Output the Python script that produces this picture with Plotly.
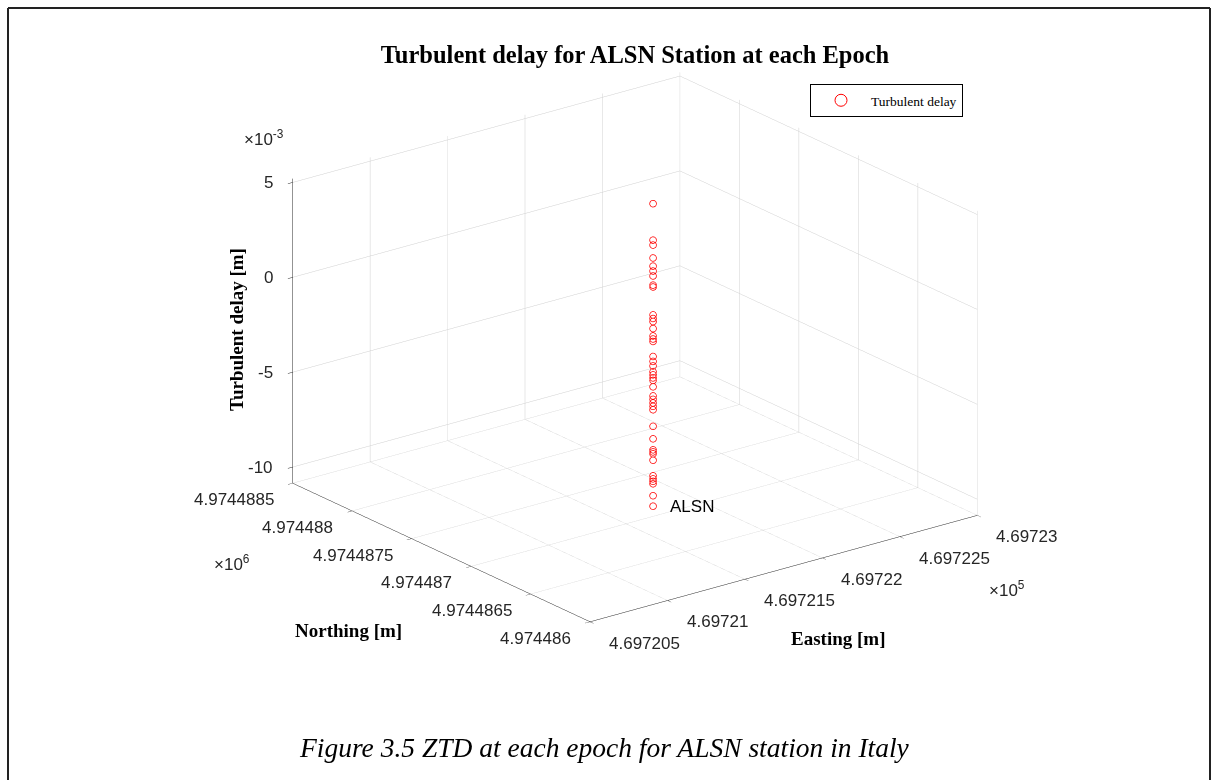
import plotly.graph_objects as go

# ---------------- data ----------------
station_name = "ALSN"
station_easting = 469721.75      # m
station_northing = 4974487.10    # m
turbulent_delay = [
    0.00517, 0.00325, 0.00299, 0.00231, 0.00188, 0.00162, 0.00136, 0.00088, 0.00078,
    -0.00069, -0.00088, -0.00104, -0.00141, -0.00180, -0.00196, -0.00209,
    -0.00288, -0.00314, -0.00338, -0.00369, -0.00385, -0.00401, -0.00414, -0.00448,
    -0.00496, -0.00514, -0.00533, -0.00551, -0.00569, -0.00656, -0.00722,
    -0.00780, -0.00791, -0.00801, -0.00835, -0.00917, -0.00933, -0.00946, -0.00959,
    -0.01022, -0.01077,
]

easting_ticks = [469720.5, 469721.0, 469721.5, 469722.0, 469722.5, 469723.0]
easting_ticklabels = ["4.697205", "4.69721", "4.697215", "4.69722", "4.697225", "4.69723"]
northing_ticks = [4974486.0, 4974486.5, 4974487.0, 4974487.5, 4974488.0, 4974488.5]
northing_ticklabels = ["4.974486", "4.9744865", "4.974487", "4.9744875", "4.974488", "4.9744885"]
delay_ticks = [-0.010, -0.005, 0.0, 0.005]
delay_ticklabels = ["-10", "-5", "0", "5"]
delay_range = [-0.01085, 0.0052]

title_text = "Turbulent delay for ALSN Station at each Epoch"
caption_text = "Figure 3.5 ZTD at each epoch for ALSN station in Italy"

# local origin: WebGL works in float32, so UTM coordinates are plotted relative
# to this origin (tick labels still show the true UTM values)
E0, N0 = 469720.0, 4974486.0

# ---------------- figure ----------------
W, H = 1213, 780
SANS = "Liberation Sans, Arial, sans-serif"
SERIF = "Liberation Serif, Times New Roman, serif"
TICK_FONT = dict(family=SANS, size=17, color="#262626")
LABEL_FONT = dict(family=SERIF, size=19, color="#000000")

n = len(turbulent_delay)
xs = [station_easting - E0] * n
ys = [station_northing - N0] * n
ex_ticks = [v - E0 for v in easting_ticks]
ny_ticks = [v - N0 for v in northing_ticks]

fig = go.Figure()
fig.add_trace(go.Scatter3d(
    x=xs, y=ys, z=turbulent_delay,
    mode="markers",
    name="Turbulent delay",
    marker=dict(symbol="circle-open", size=4.2, color="#ff0000"),
    showlegend=True,
))

xmin, xmax = ex_ticks[0], ex_ticks[-1]
ymin, ymax = ny_ticks[0], ny_ticks[-1]
zmin, zmax = delay_range

ann3d = []
for v, t in zip(delay_ticks, delay_ticklabels):
    ann3d.append(dict(x=xmin, y=ymax, z=v, text=t, showarrow=False,
                      xanchor="right", yanchor="middle", xshift=-18, font=TICK_FONT))
for v, t in zip(ny_ticks, northing_ticklabels):
    ann3d.append(dict(x=xmin, y=v, z=zmin, text=t, showarrow=False,
                      xanchor="right", yanchor="middle", xshift=-17, yshift=-16, font=TICK_FONT))
for v, t in zip(ex_ticks, easting_ticklabels):
    ann3d.append(dict(x=v, y=ymin, z=zmin, text=t, showarrow=False,
                      xanchor="left", yanchor="middle", xshift=17, yshift=-21, font=TICK_FONT))
ann3d.append(dict(x=xs[0], y=ys[0], z=min(turbulent_delay),
                  text=station_name, showarrow=False, xanchor="left", yanchor="middle",
                  xshift=15, font=dict(family=SANS, size=17, color="#000")))

axis_common = dict(
    showbackground=False, showgrid=True, gridcolor="#d0d0d0", gridwidth=1,
    zeroline=False, showline=True, linecolor="#262626", linewidth=1,
    showticklabels=False, ticks="outside", ticklen=6, tickcolor="#262626", tickwidth=1,
    showspikes=False, title=dict(text=""),
)

S = 1.565
eye_dir = (-0.569, -0.741, 0.358)
L = 2.0
fig.update_layout(
    width=W, height=H,
    margin=dict(l=0, r=0, t=0, b=0),
    paper_bgcolor="white",
    title=dict(text="<b>" + title_text + "</b>", x=635 / W, y=1 - 54 / H,
               xanchor="center", yanchor="middle",
               font=dict(family=SERIF, size=24.5, color="#000")),
    scene=dict(
        domain=dict(x=[0.0735, 0.9735], y=[0.1545, 0.9545]),
        bgcolor="white",
        xaxis=dict(range=[xmin, xmax], tickvals=ex_ticks, **axis_common),
        yaxis=dict(range=[ymin, ymax], tickvals=ny_ticks, **axis_common),
        zaxis=dict(range=[zmin, zmax], tickvals=delay_ticks, **axis_common),
        aspectmode="manual",
        aspectratio=dict(x=S, y=S, z=0.668 * S),
        camera=dict(
            projection=dict(type="orthographic"),
            eye=dict(x=L * eye_dir[0], y=L * eye_dir[1], z=L * eye_dir[2]),
            up=dict(x=0, y=0, z=1),
            center=dict(x=0, y=0, z=0),
        ),
        annotations=ann3d,
    ),
    legend=dict(x=810 / W, y=1 - 84 / H, xanchor="left", yanchor="top",
                bordercolor="#000", borderwidth=1, bgcolor="white",
                itemsizing="constant", itemwidth=50,
                font=dict(family=SERIF, size=13.5, color="#000")),
    annotations=[
        dict(text="<b>Turbulent delay [m]</b>", x=236 / W, y=1 - 330 / H, xref="paper", yref="paper",
             textangle=-90, showarrow=False, xanchor="center", yanchor="middle", font=LABEL_FONT),
        dict(text="<b>Northing [m]</b>", x=348 / W, y=1 - 630 / H, xref="paper", yref="paper",
             showarrow=False, xanchor="center", yanchor="middle", font=LABEL_FONT),
        dict(text="<b>Easting [m]</b>", x=838 / W, y=1 - 638 / H, xref="paper", yref="paper",
             showarrow=False, xanchor="center", yanchor="middle", font=LABEL_FONT),
        dict(text="×10<sup>-3</sup>", x=264 / W, y=1 - 138 / H, xref="paper", yref="paper",
             showarrow=False, xanchor="center", yanchor="middle", font=TICK_FONT),
        dict(text="×10<sup>6</sup>", x=232 / W, y=1 - 563 / H, xref="paper", yref="paper",
             showarrow=False, xanchor="center", yanchor="middle", font=TICK_FONT),
        dict(text="×10<sup>5</sup>", x=1007 / W, y=1 - 589 / H, xref="paper", yref="paper",
             showarrow=False, xanchor="center", yanchor="middle", font=TICK_FONT),
        dict(text="<i>" + caption_text + "</i>", x=604 / W, y=1 - 747 / H, xref="paper", yref="paper",
             showarrow=False, xanchor="center", yanchor="middle",
             font=dict(family=SERIF, size=27.5, color="#000")),
    ],
    shapes=[
        dict(type="line", xref="paper", yref="paper", x0=8 / W, x1=1210 / W, y0=1 - 8 / H, y1=1 - 8 / H,
             line=dict(color="#222", width=2)),
        dict(type="line", xref="paper", yref="paper", x0=8 / W, x1=8 / W, y0=1 - 8 / H, y1=-0.05,
             line=dict(color="#222", width=2)),
        dict(type="line", xref="paper", yref="paper", x0=1210 / W, x1=1210 / W, y0=1 - 8 / H, y1=-0.05,
             line=dict(color="#222", width=2)),
    ],
)

fig.write_html("out.html")
